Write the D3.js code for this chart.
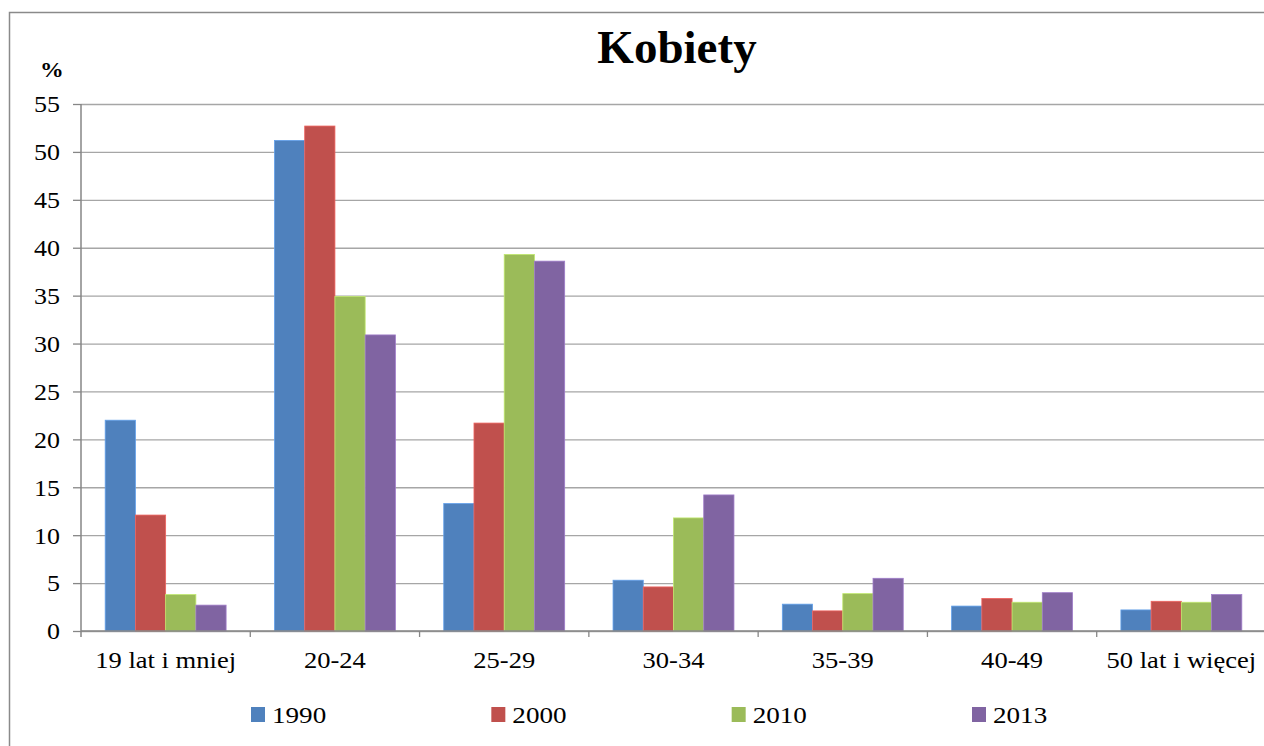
<!DOCTYPE html>
<html>
<head>
<meta charset="utf-8">
<script src="https://cdn.jsdelivr.net/npm/d3@7"></script>
<style>
  html, body { margin: 0; padding: 0; background: #fff; }
  svg { display: block; }
</style>
</head>
<body>
<div id="chart"></div>
<script>
// chart data
const categories = ["19 lat i mniej", "20-24", "25-29", "30-34", "35-39", "40-49", "50 lat i więcej"];
const years = ["1990", "2000", "2010", "2013"];
const v1990 = [22.0, 51.2, 13.3, 5.3, 2.8, 2.6, 2.2];
const v2000 = [12.1, 52.7, 21.7, 4.6, 2.1, 3.4, 3.1];
const v2010 = [3.8, 34.9, 39.3, 11.8, 3.9, 3.0, 3.0];
const v2013 = [2.7, 30.9, 38.6, 14.2, 5.5, 4.0, 3.8];
const yTicks = [0, 5, 10, 15, 20, 25, 30, 35, 40, 45, 50, 55];
const colors = ["#4F81BD", "#C0504D", "#9BBB59", "#8064A2"];

const series = [v1990, v2000, v2010, v2013];
const rows = categories.map((c, i) => ({ cat: c, values: series.map((s, j) => ({ year: years[j], v: s[i] })) }));

const width = 1264, height = 746;
const plotLeft = 81, plotRight = 1266, plotTop = 104, plotBottom = 631;
const stretch = 1.13; // labels in the source are a bit wide
const serif = '"Liberation Serif", "Times New Roman", Times, serif';

const svg = d3.select('#chart').append('svg')
    .attr('width', width)
    .attr('height', height)
    .style('font-family', serif);

// outer frame of the chart area
svg.append('rect')
    .attr('x', 9.5).attr('y', 12.5)
    .attr('width', width + 20).attr('height', height + 20)
    .attr('fill', 'none')
    .attr('stroke', '#8a8a8a')
    .attr('stroke-width', 1.5);

const x = d3.scaleBand().domain(categories).range([plotLeft, plotRight]).padding(0);
const xIn = d3.scaleBand().domain(years).range([0, x.bandwidth()]).paddingInner(0).paddingOuter(0.8);
const y = d3.scaleLinear().domain([0, 55]).range([plotBottom, plotTop]);

// gridlines
svg.append('g')
    .attr('transform', `translate(${plotLeft},0)`)
    .call(d3.axisLeft(y).tickValues(yTicks).tickSize(-(plotRight - plotLeft)).tickFormat(''))
    .call(g => g.select('.domain').remove())
    .call(g => g.selectAll('line').attr('stroke', '#a6a6a6').attr('stroke-width', 1.3));

// bars
const groups = svg.append('g').selectAll('g')
    .data(rows)
    .join('g')
    .attr('transform', d => `translate(${x(d.cat)},0)`);

groups.selectAll('rect')
    .data(d => d.values)
    .join('rect')
    .attr('x', d => xIn(d.year))
    .attr('width', xIn.bandwidth())
    .attr('y', d => y(d.v))
    .attr('height', d => y(0) - y(d.v))
    .attr('fill', (d, i) => colors[i])
    .attr('stroke', (d, i) => d3.color(colors[i]).brighter(0.6))
    .attr('stroke-width', 0.8);

// y axis
const yAxis = svg.append('g')
    .attr('transform', `translate(${plotLeft},0)`)
    .call(d3.axisLeft(y).tickValues(yTicks).tickSize(8).tickPadding(0))
    .attr('font-family', null)
    .attr('font-size', null);
yAxis.select('.domain').attr('stroke', '#868686').attr('stroke-width', 1.5).attr('d', `M0,${plotTop}V${plotBottom + 6}`);
yAxis.selectAll('line').attr('stroke', '#868686').attr('stroke-width', 1.3);
yAxis.selectAll('text')
    .style('font-family', serif)
    .style('font-size', '23px')
    .attr('fill', '#000')
    .attr('x', -21 / stretch)
    .attr('dy', '0.34em')
    .attr('transform', `scale(${stretch},1)`);

// x axis line, ticks at category boundaries
const xAxis = svg.append('g');
xAxis.append('line')
    .attr('x1', plotLeft).attr('x2', plotRight)
    .attr('y1', y(0)).attr('y2', y(0))
    .attr('stroke', '#868686').attr('stroke-width', 1.5);
xAxis.selectAll('.bound')
    .data(categories.slice(1).map(c => x(c)).concat([x.range()[1]]))
    .join('line')
    .attr('class', 'bound')
    .attr('x1', d => d).attr('x2', d => d)
    .attr('y1', y(0)).attr('y2', y(0) + 6)
    .attr('stroke', '#868686').attr('stroke-width', 1.3);
xAxis.selectAll('.xlab')
    .data(categories)
    .join('text')
    .attr('class', 'xlab')
    .attr('text-anchor', 'middle')
    .style('font-family', serif)
    .style('font-size', '23.5px')
    .attr('transform', d => `translate(${x(d) + x.bandwidth() / 2},${y(0) + 37}) scale(${stretch},1)`)
    .text(d => d);

// title and unit label
svg.append('text')
    .attr('x', 677).attr('y', 63)
    .attr('text-anchor', 'middle')
    .style('font-family', serif)
    .style('font-size', '47px')
    .style('font-weight', 'bold')
    .text('Kobiety');

svg.append('text')
    .attr('transform', `translate(40,77) scale(${stretch},1)`)
    .style('font-family', serif)
    .style('font-size', '21px')
    .style('font-weight', 'bold')
    .text('%');

// legend
const legendX = d3.scaleLinear().domain([0, years.length - 1]).range([251, 972]);
const legend = svg.append('g').selectAll('g')
    .data(years)
    .join('g')
    .attr('transform', (d, i) => `translate(${legendX(i)},707)`);
legend.append('rect')
    .attr('width', 14).attr('height', 15)
    .attr('fill', (d, i) => colors[i]);
legend.append('text')
    .attr('transform', `translate(21,16) scale(${stretch},1)`)
    .style('font-family', serif)
    .style('font-size', '24px')
    .text(d => d);
</script>
</body>
</html>
